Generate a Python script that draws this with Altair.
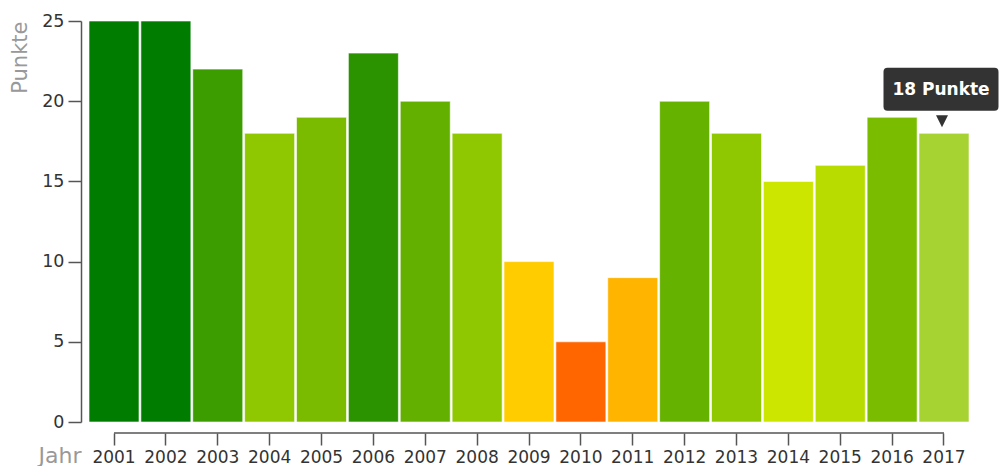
import altair as alt
import pandas as pd

years = ["2001", "2002", "2003", "2004", "2005", "2006", "2007", "2008", "2009",
         "2010", "2011", "2012", "2013", "2014", "2015", "2016", "2017"]
points = [25, 25, 22, 18, 19, 23, 20, 18, 10, 5, 9, 20, 18, 15, 16, 19, 18]
colors = ["#007d00", "#007d00", "#3b9d00", "#8fc800", "#7abb00", "#2b9300", "#64b000",
          "#8fc800", "#ffcc00", "#ff6600", "#ffb400", "#66b200", "#8fc800", "#cce600",
          "#b8dc00", "#79bc00", "#a6d232"]
y_ticks = [0, 5, 10, 15, 20, 25]

df = pd.DataFrame({"Jahr": years, "Punkte": points})
hl = pd.DataFrame({"Jahr": [years[-1]], "Punkte": [points[-1]],
                   "label": [f"{points[-1]} Punkte"]})
dom = pd.DataFrame({"a": [years[0]], "b": [years[-1]]})

xscale = alt.Scale(domain=years, paddingInner=0.036, paddingOuter=0)
yscale = alt.Scale(domain=[0, 25], nice=False)

x_axis = alt.Axis(
    title="Jahr", orient="bottom", offset=11, domain=False, tickSize=12,
    tickColor="#555", tickWidth=1.5, labelPadding=4, labelFontSize=17,
    labelColor="#333", labelAngle=0, titleX=-8, titleY=29, titleAlign="right",
    titleBaseline="alphabetic", titleColor="#999", titleFontSize=22,
    titleFontWeight="normal",
)
y_axis = alt.Axis(
    title="Punkte", values=y_ticks, offset=8, tickSize=13, tickColor="#555",
    tickWidth=1.5, domainColor="#555", domainWidth=1.5, labelPadding=4,
    labelFontSize=17.5, labelColor="#333", grid=False, titleAngle=-90,
    titleX=-61, titleY=0, titleAlign="right", titleBaseline="middle",
    titleColor="#999", titleFontSize=21, titleFontWeight="normal",
)

bars = alt.Chart(df).mark_bar(stroke="white", strokeWidth=1, strokeOpacity=0.6).encode(
    x=alt.X("Jahr:N", scale=xscale, axis=x_axis, sort=years),
    y=alt.Y("Punkte:Q", scale=yscale, axis=y_axis),
    color=alt.Color("Jahr:N", scale=alt.Scale(domain=years, range=colors), legend=None),
)

xdomain = alt.Chart(dom).mark_rule(color="#555", strokeWidth=1.5).encode(
    x=alt.X("a:N", scale=xscale, sort=years),
    x2="b:N",
    y=alt.value(412),
)

box_path = ("M-0.93,-0.374 L0.93,-0.374 Q1,-0.374 1,-0.304 L1,0.304 Q1,0.374 0.93,0.374 "
            "L-0.93,0.374 Q-1,0.374 -1,0.304 L-1,-0.304 Q-1,-0.374 -0.93,-0.374 Z")

box = alt.Chart(hl).mark_point(
    shape=box_path, size=115 * 115, filled=True, color="#333", opacity=1,
    strokeWidth=0, xOffset=-3, yOffset=-44,
).encode(
    x=alt.X("Jahr:N", scale=xscale, sort=years),
    y=alt.Y("Punkte:Q", scale=yscale),
)

arrow = alt.Chart(hl).mark_point(
    shape="M-1,-1 L1,-1 L0,1 Z", size=144, filled=True, color="#333", opacity=1,
    strokeWidth=0, xOffset=-2, yOffset=-12,
).encode(
    x=alt.X("Jahr:N", scale=xscale, sort=years),
    y=alt.Y("Punkte:Q", scale=yscale),
)

text = alt.Chart(hl).mark_text(
    color="white", fontWeight="bold", fontSize=17, baseline="middle", align="center",
    xOffset=-3, yOffset=-43,
).encode(
    x=alt.X("Jahr:N", scale=xscale, sort=years),
    y=alt.Y("Punkte:Q", scale=yscale),
    text="label:N",
)

chart = alt.layer(bars, xdomain, box, arrow, text).properties(
    width=880, height=401,
    padding={"left": 89, "top": 21, "right": 32, "bottom": 44},
    autosize=alt.AutoSizeParams(type="none"),
).configure(font="DejaVu Sans").configure_view(stroke=None)

chart.save("out.html", embed_options={"renderer": "svg", "actions": False})
